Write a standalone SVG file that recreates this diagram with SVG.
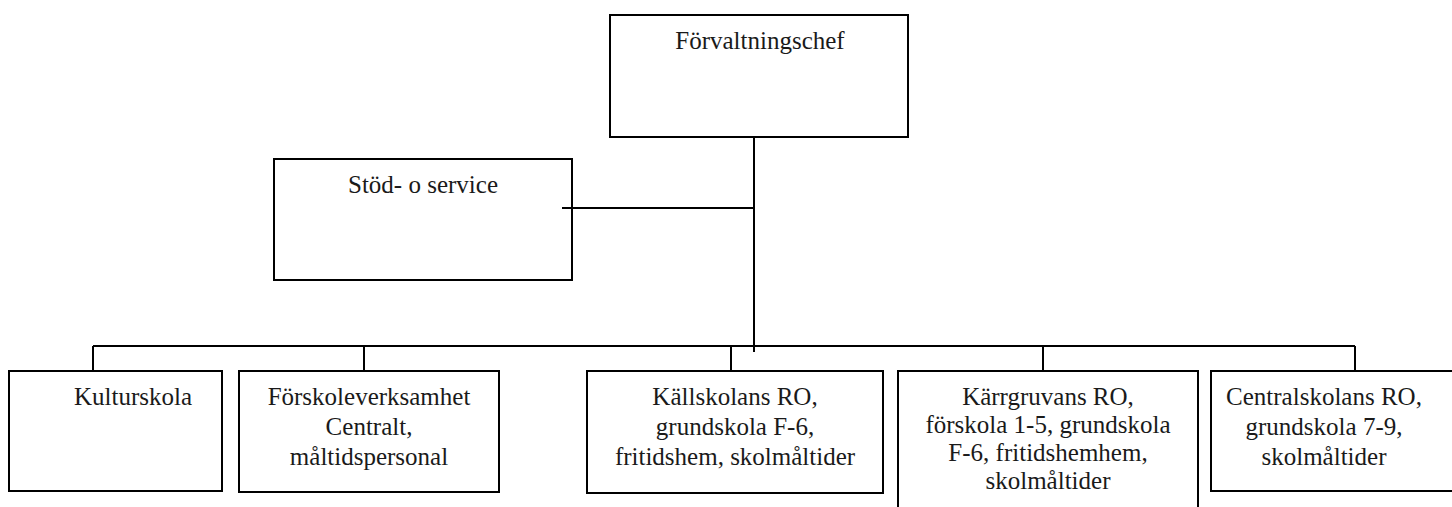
<svg xmlns="http://www.w3.org/2000/svg" width="1452" height="507" viewBox="0 0 1452 507">
<style>
.box{fill:#fff;stroke:#000;stroke-width:2}
.ln{stroke:#000;stroke-width:2;fill:none}
text{font-family:"Liberation Serif","Times New Roman",serif;font-size:25px;fill:#1a1a1a;text-anchor:middle}
</style>
<rect width="1452" height="507" fill="#fff"/>
<g id="connectors">
<line class="ln" x1="754" y1="137" x2="754" y2="352"/>
<line class="ln" x1="562" y1="208" x2="754" y2="208"/>
<line class="ln" x1="93" y1="346" x2="1355" y2="346"/>
<line class="ln" x1="93" y1="346" x2="93" y2="371"/>
<line class="ln" x1="364" y1="346" x2="364" y2="371"/>
<line class="ln" x1="731" y1="346" x2="731" y2="371"/>
<line class="ln" x1="1043" y1="346" x2="1043" y2="371"/>
<line class="ln" x1="1355" y1="346" x2="1355" y2="371"/>
</g>
<g id="forvaltningschef">
<rect class="box" x="610" y="15" width="298" height="122"/>
<text x="760" y="49">Förvaltningschef</text>
</g>
<g id="stod">
<rect class="box" x="274" y="159" width="298" height="121"/>
<text x="423" y="193">Stöd- o service</text>
</g>
<line class="ln" x1="562" y1="208" x2="572" y2="208"/>
<g id="kulturskola">
<rect class="box" x="9" y="371" width="213" height="120"/>
<text x="133" y="405">Kulturskola</text>
</g>
<g id="forskoleverksamhet">
<rect class="box" x="239" y="371" width="260" height="121"/>
<text x="369" y="405">Förskoleverksamhet</text>
<text x="369" y="435">Centralt,</text>
<text x="369" y="465">måltidspersonal</text>
</g>
<g id="kallskolan">
<rect class="box" x="587" y="371" width="296" height="122"/>
<text x="735" y="405">Källskolans RO,</text>
<text x="735" y="435">grundskola F-6,</text>
<text x="735" y="465">fritidshem, skolmåltider</text>
</g>
<g id="karrgruvan">
<rect class="box" x="898" y="371" width="300" height="150"/>
<text x="1048" y="405">Kärrgruvans RO,</text>
<text x="1048" y="433">förskola 1-5, grundskola</text>
<text x="1048" y="461">F-6, fritidshemhem,</text>
<text x="1048" y="489">skolmåltider</text>
</g>
<g id="centralskolan">
<rect class="box" x="1211" y="371" width="250" height="120"/>
<text x="1324" y="405">Centralskolans RO,</text>
<text x="1324" y="435">grundskola 7-9,</text>
<text x="1324" y="465">skolmåltider</text>
</g>
</svg>
